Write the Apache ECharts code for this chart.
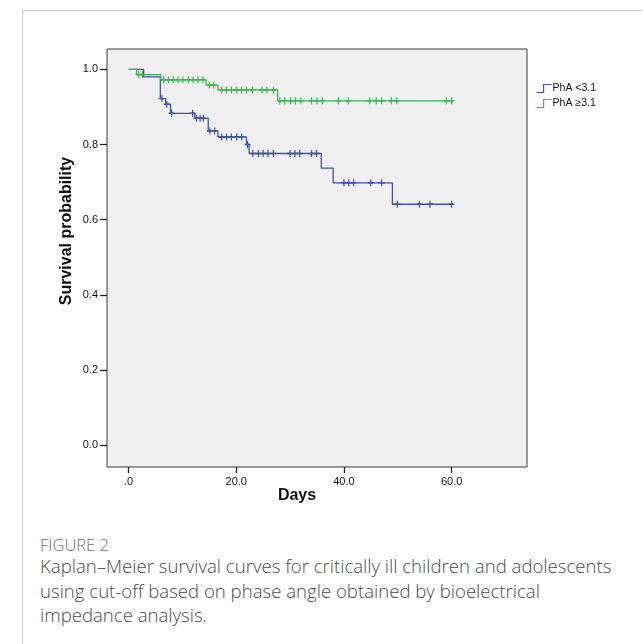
<!DOCTYPE html>
<html>
<head>
<meta charset="utf-8">
<script src="https://cdn.jsdelivr.net/npm/echarts@6/dist/echarts.min.js"></script>
<style>
  body { margin: 0; background: #fff; }
  #frame { position: absolute; left: 22px; top: 10px; width: 660px; height: 680px; border: 1px solid #cfcfcf; }
  #main { position: absolute; left: 0; top: 0; width: 643px; height: 520px; }
  #cap { position: absolute; left: 40px; top: 535px; font-family: "Open Sans", Lato, sans-serif; font-weight: 300; }
  #cap .fig { font-size: 16.5px; line-height: 19px; color: #6e6e6e; }
  #cap .txt { font-size: 18.6px; line-height: 24.5px; color: #4a4a4a; }
</style>
</head>
<body>
<div id="frame"></div>
<div id="main"></div>
<div id="cap">
  <div class="fig">FIGURE 2</div>
  <div class="txt">Kaplan–Meier survival curves for critically ill children and adolescents<br>using cut-off based on phase angle obtained by bioelectrical<br>impedance analysis.</div>
</div>
<script>
// step times (days) and survival after each step
const lowTimes = [0, 2.8, 5.9, 6.9, 7.8, 12.3, 14.8, 16.6, 21.9, 22.4, 35.8, 38.0, 49.0, 60.2]
const lowSurv = [1.0, 0.980, 0.922, 0.907, 0.883, 0.870, 0.836, 0.820, 0.800, 0.776, 0.737, 0.698, 0.641, 0.641]
const lowCensor = [6.2, 7.1, 8.0, 11.9, 12.6, 13.3, 13.9, 15.1, 16.0, 17.3, 18.2, 19.1, 20.1, 21.0, 22.1,
  23.1, 24.1, 25.0, 25.9, 26.9, 30.0, 30.9, 31.8, 34.0, 34.9, 40.0, 40.9, 41.8, 45.0, 47.0,
  49.9, 54.0, 56.0, 60.0]

const highTimes = [0, 1.5, 6.0, 14.4, 16.6, 27.7, 60.3]
const highSurv = [1.0, 0.986, 0.972, 0.958, 0.945, 0.916, 0.916]
const highCensor = [1.9, 2.6, 6.5, 7.4, 8.3, 9.2, 10.1, 11.1, 12.0, 12.9, 13.8, 15.0, 15.8,
  17.3, 18.2, 19.1, 20.1, 21.0, 21.9, 23.0, 24.8, 25.7, 26.9, 28.1, 29.0, 30.1, 31.0, 32.0,
  34.0, 35.0, 36.0, 39.0, 40.8, 44.8, 46.0, 47.0, 48.8, 49.8, 59.0, 60.0]

const xTicks = [0, 20, 40, 60]
const yTicks = [0, 0.2, 0.4, 0.6, 0.8, 1.0]
const groupNames = ['PhA <3.1', 'PhA ≥3.1']

const BLUE = '#3d52a3'
const GREEN = '#3fb54a'
const PLUS = 'path://M4,0H6V4H10V6H6V10H4V6H0V4H4Z'
const STEP_ICON = 'path://M0,9H7V1H15'

// level of the KM curve at time t (for placing censor marks on it)
function levelAt(times, surv, t) {
  let s = surv[0]
  for (let i = 0; i < times.length; i++) {
    if (times[i] <= t) s = surv[i]
  }
  return s
}
const zip = (a, b) => a.map((v, i) => [v, b[i]])
const marks = (times, surv, cens) => cens.map(t => [t, levelAt(times, surv, t)])

const chart = echarts.init(document.getElementById('main'))
const labelFont = 'Liberation Sans, Arial, sans-serif'

chart.setOption({
  animation: false,
  grid: {
    left: 107, top: 49, width: 420, height: 418,
    show: true,
    backgroundColor: '#f0f0f0',
    borderColor: '#3a3a3a',
    borderWidth: 1
  },
  legend: {
    orient: 'vertical',
    left: 531, top: 78,
    itemWidth: 15, itemHeight: 9, itemGap: 4,
    textStyle: { fontSize: 10.5, fontFamily: labelFont, color: '#111', padding: [0, 0, 0, -4] },
    data: [
      { name: groupNames[0], icon: STEP_ICON, itemStyle: { color: 'transparent', borderColor: BLUE, borderWidth: 1.2 } },
      { name: groupNames[1], icon: STEP_ICON, itemStyle: { color: 'transparent', borderColor: GREEN, borderWidth: 1.2 } }
    ]
  },
  xAxis: {
    type: 'value',
    min: -4, max: 74,
    axisLine: { show: false, onZero: false },
    splitLine: { show: false },
    axisTick: { show: true, length: 6, customValues: xTicks, lineStyle: { color: '#222', width: 1.3 } },
    axisLabel: {
      customValues: xTicks, margin: 9,
      fontSize: 11, fontFamily: labelFont, color: '#111',
      formatter: v => (v === 0 ? '.0' : v.toFixed(1))
    }
  },
  yAxis: {
    type: 'value',
    min: -0.058, max: 1.054,
    axisLine: { show: false, onZero: false },
    splitLine: { show: false },
    axisTick: { show: true, length: 7, customValues: yTicks, lineStyle: { color: '#222', width: 1.3 } },
    axisLabel: {
      customValues: yTicks, margin: 9,
      fontSize: 11, fontFamily: labelFont, color: '#111',
      formatter: v => v.toFixed(1)
    }
  },
  graphic: [
    {
      type: 'text', x: 67, y: 231, rotation: Math.PI / 2,
      style: { text: 'Survival probability', font: 'bold 16px Liberation Sans, Arial, sans-serif', fill: '#111', align: 'center', verticalAlign: 'middle' }
    },
    {
      type: 'text', x: 297, y: 496,
      style: { text: 'Days', font: 'bold 16px Liberation Sans, Arial, sans-serif', fill: '#111', align: 'center', verticalAlign: 'middle' }
    }
  ],
  series: [
    {
      name: groupNames[0], type: 'line', step: 'end', showSymbol: false, silent: true,
      color: BLUE, lineStyle: { color: BLUE, width: 1.3 },
      data: zip(lowTimes, lowSurv)
    },
    {
      name: groupNames[1], type: 'line', step: 'end', showSymbol: false, silent: true,
      color: GREEN, lineStyle: { color: GREEN, width: 1.3 },
      data: zip(highTimes, highSurv)
    },
    {
      name: groupNames[0], type: 'scatter', symbol: PLUS, symbolSize: [6, 7], silent: true,
      itemStyle: { color: BLUE, opacity: 1 },
      data: marks(lowTimes, lowSurv, lowCensor)
    },
    {
      name: groupNames[1], type: 'scatter', symbol: PLUS, symbolSize: [6, 7], silent: true,
      itemStyle: { color: GREEN, opacity: 1 },
      data: marks(highTimes, highSurv, highCensor)
    }
  ]
})
</script>
</body>
</html>
